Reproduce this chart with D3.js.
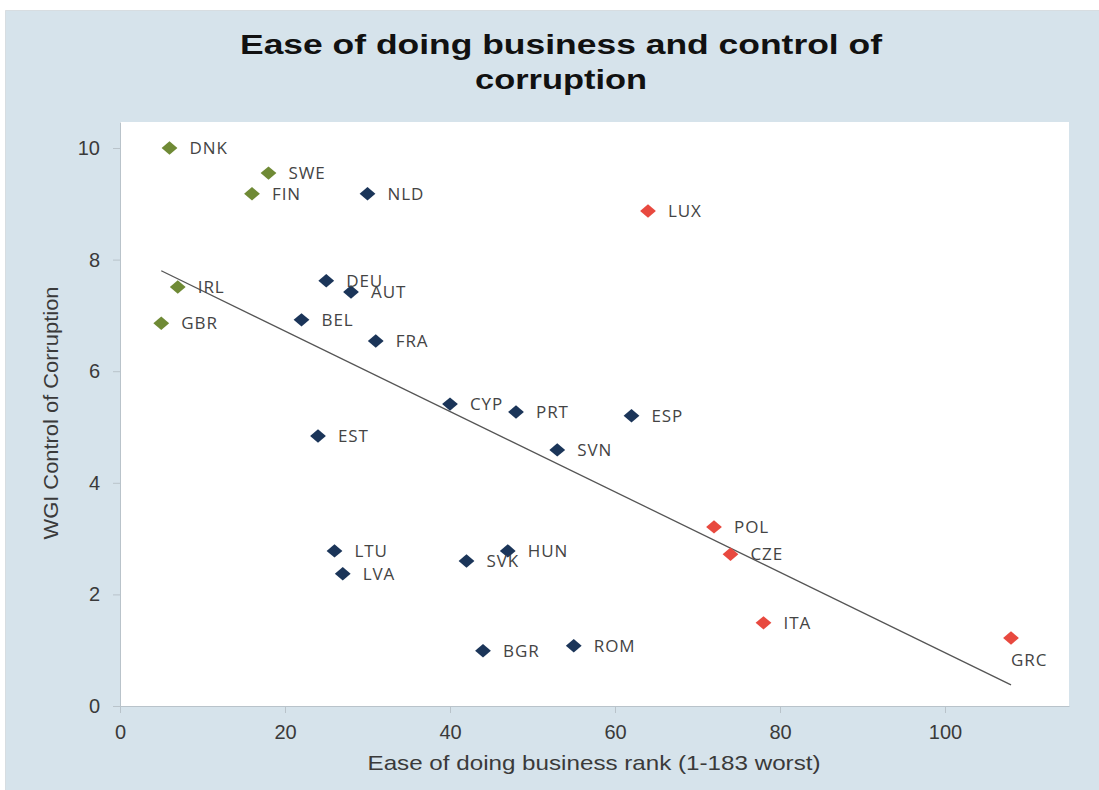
<!DOCTYPE html>
<html>
<head>
<meta charset="utf-8">
<script src="https://cdn.jsdelivr.net/npm/d3@7"></script>
<style>
  html, body { margin: 0; padding: 0; background: #fff; }
  svg { display: block; }
  .axis path, .axis line { stroke: #b9c3ca; }
  .axis text { font-family: "Liberation Sans", Arial, sans-serif; font-size: 20px; fill: #3a3a3a; }
</style>
</head>
<body>
<div id="chart"></div>
<script>
// country codes, ease of doing business rank, WGI control of corruption
var countries = ["DNK","SWE","FIN","NLD","LUX","DEU","AUT","IRL","GBR","BEL","FRA","CYP","PRT","ESP","EST","SVN","POL","CZE","LTU","HUN","SVK","LVA","ITA","GRC","ROM","BGR"];
var bizRank   = [6, 18, 16, 30, 64, 25, 28, 7, 5, 22, 31, 40, 48, 62, 24, 53, 72, 74, 26, 47, 42, 27, 78, 108, 55, 44];
var corruption = [10.0, 9.55, 9.18, 9.18, 8.87, 7.62, 7.42, 7.51, 6.86, 6.92, 6.54, 5.41, 5.27, 5.20, 4.84, 4.59, 3.21, 2.72, 2.78, 2.78, 2.60, 2.37, 1.49, 1.22, 1.08, 0.99];
// group: n = nordic/anglo, c = core, s = south/east
var group = ["n","n","n","c","s","c","c","n","n","c","c","c","c","c","c","c","s","s","c","c","c","c","s","s","c","c"];
var trendX = [5, 108];
var trendY = [7.80, 0.38];
var xTicks = [0, 20, 40, 60, 80, 100];
var yTicks = [0, 2, 4, 6, 8, 10];

var W = 1099, H = 790;
var margin = {top: 122, left: 120, right: 30, bottom: 84};
var w = W - margin.left - margin.right;
var h = H - margin.top - margin.bottom;
var colors = {n: "#6f8a35", c: "#1b3559", s: "#e8493f"};
var font = "'Liberation Sans', Arial, sans-serif";

var svg = d3.select("#chart").append("svg").attr("width", W).attr("height", H);

// outer frame
svg.append("rect")
    .attr("x", 5.5).attr("y", 10.5).attr("width", W - 5).attr("height", H - 10)
    .attr("fill", "#d6e3eb").attr("stroke", "#c4c9cc").attr("stroke-dasharray", "1,1");

// title (the picture is a bit stretched sideways, so widths are forced)
var title = svg.append("text")
    .attr("text-anchor", "middle")
    .attr("font-family", font)
    .attr("font-weight", "bold").attr("font-size", 28).attr("fill", "#111");
title.append("tspan").attr("x", 561).attr("y", 54)
    .attr("textLength", 642).attr("lengthAdjust", "spacingAndGlyphs")
    .text("Ease of doing business and control of");
title.append("tspan").attr("x", 561).attr("y", 89)
    .attr("textLength", 172).attr("lengthAdjust", "spacingAndGlyphs")
    .text("corruption");

var g = svg.append("g").attr("transform", "translate(" + margin.left + "," + margin.top + ")");

g.append("rect").attr("width", w).attr("height", h).attr("fill", "#fff");

var x = d3.scaleLinear().domain([0, w / 8.25]).range([0, w]);
var y = d3.scaleLinear().domain([0, h / 55.8]).range([h, 0]);

g.append("g").attr("class", "x axis")
    .attr("transform", "translate(0," + h + ")")
    .call(d3.axisBottom(x).tickValues(xTicks).tickSize(7).tickPadding(12).tickSizeOuter(0));
g.append("g").attr("class", "y axis")
    .call(d3.axisLeft(y).tickValues(yTicks).tickSize(7).tickPadding(13).tickSizeOuter(0));

// axis titles
svg.append("text")
    .attr("x", 594).attr("y", 770).attr("text-anchor", "middle")
    .attr("font-family", font).attr("font-size", 21).attr("fill", "#3a3a3a")
    .attr("textLength", 453).attr("lengthAdjust", "spacingAndGlyphs")
    .text("Ease of doing business rank (1-183 worst)");
svg.append("text")
    .attr("transform", "translate(58,413) rotate(-90)").attr("text-anchor", "middle")
    .attr("font-family", font).attr("font-size", 21).attr("fill", "#3a3a3a")
    .attr("textLength", 253).attr("lengthAdjust", "spacingAndGlyphs")
    .text("WGI Control of Corruption");

// trend line
var line = d3.line().x(function(d){ return x(d[0]); }).y(function(d){ return y(d[1]); });
g.append("path")
    .attr("d", line(d3.zip(trendX, trendY)))
    .attr("fill", "none").attr("stroke", "#555").attr("stroke-width", 1.3);

var data = countries.map(function(c, i){
    return {name: c, x: bizRank[i], y: corruption[i], grp: group[i]};
});

var diamond = d3.symbol().type(d3.symbolSquare).size(125);
g.selectAll(".pt").data(data).enter().append("path")
    .attr("class", "pt")
    .attr("d", diamond)
    .attr("transform", function(d){ return "translate(" + x(d.x) + "," + y(d.y) + ") scale(1,0.85) rotate(45)"; })
    .attr("fill", function(d){ return colors[d.grp]; });

g.selectAll(".lbl").data(data).enter().append("text")
    .attr("class", "lbl")
    .attr("x", function(d){ return x(d.x) + (d.name == "GRC" ? 0 : 20); })
    .attr("y", function(d){ return y(d.y) + (d.name == "GRC" ? 22 : 0); })
    .attr("dy", "0.36em")
    .attr("font-family", "'Open Sans', sans-serif").attr("font-size", 17).attr("letter-spacing", 0.9)
    .attr("fill", "#444")
    .text(function(d){ return d.name; });
</script>
</body>
</html>
